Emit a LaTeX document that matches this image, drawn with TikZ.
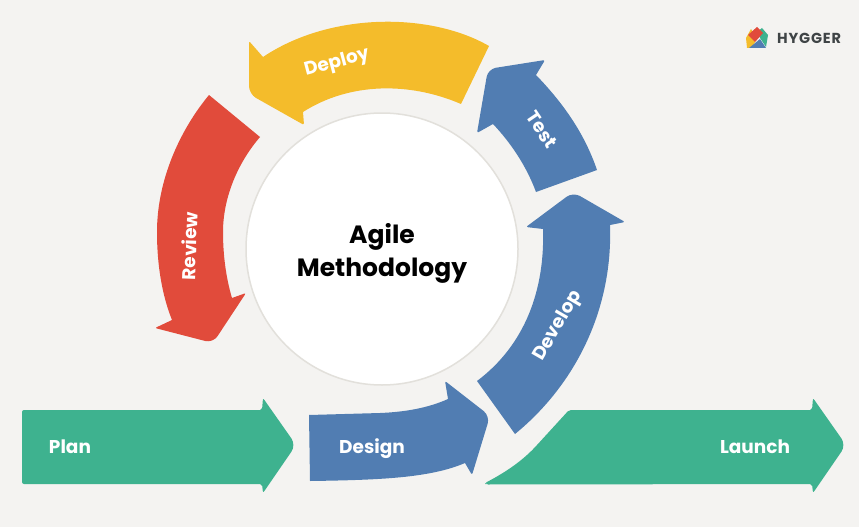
\documentclass[tikz,border=0pt]{standalone}
\usepackage{fontspec}
\setmainfont{Poppins}
\definecolor{paper}{HTML}{F4F3F1}
\definecolor{ringline}{HTML}{E2E0DB}
\definecolor{greenarrow}{HTML}{3EB28F}
\definecolor{bluearrow}{HTML}{517DB2}
\definecolor{yellowarrow}{HTML}{F4BC2B}
\definecolor{redarrow}{HTML}{E14B3B}
\definecolor{logotext}{HTML}{3F4446}
\tikzset{
  arrowtext/.style={text=white,text height=13pt,text depth=4pt,font=\bfseries\fontsize{18.5}{20}\selectfont},
  titletext/.style={text=black,align=center,font=\bfseries\fontsize{25}{33}\selectfont}
}
\begin{document}
\begin{tikzpicture}[x=1pt,y=-1pt]
\fill[paper] (0,0) rectangle (859,527);
\useasboundingbox (0,0) rectangle (859,527);
% plan and launch
\fill[greenarrow,rounded corners=2pt] (22,410) -- (262,410) -- (263,398) [rounded corners=8pt] -- (296,445) [rounded corners=2pt] -- (263,493) -- (262,484) -- (22,484) -- cycle;
\fill[greenarrow,rounded corners=2pt] (485,483) .. controls (510,470) and (525,458) .. (537,445) -- (569,410) -- (812,410) -- (813,398) [rounded corners=8pt] -- (846,445) [rounded corners=2pt] -- (813,493) -- (812,484) -- (486,484.5) -- cycle;
% ring
\fill[bluearrow] (309,415) -- (380,413) .. controls (405,412) and (428,408) .. (448,399) [rounded corners=2pt] -- (445,381) [rounded corners=8pt] -- (490,416) [rounded corners=2pt] -- (472,475) [rounded corners=0pt] -- (465,463) .. controls (430,478) and (380,480) .. (310,481) -- cycle;
\fill[bluearrow] (477,381) .. controls (525,345) and (545,290) .. (543,229) [rounded corners=2pt] -- (526,227) [rounded corners=8pt] -- (573,192) [rounded corners=2pt] -- (625,222) [rounded corners=0pt] -- (610,225) .. controls (613,310) and (575,385) .. (515,434) -- cycle;
\fill[bluearrow] (536,192) .. controls (526,165) and (510,142) .. (493,124) [rounded corners=2pt] -- (477,133) [rounded corners=8pt] -- (488,69) [rounded corners=2pt] -- (545,60) [rounded corners=0pt] -- (536,75) .. controls (565,105) and (585,135) .. (597,170) -- cycle;
\fill[yellowarrow] (489,46) -- (461,104) .. controls (410,82) and (350,82) .. (303,112) [rounded corners=2pt] -- (304,125) [rounded corners=8pt] -- (249,94) [rounded corners=2pt] -- (249,41) [rounded corners=0pt] -- (263,57) .. controls (330,12) and (430,12) .. (489,46) -- cycle;
\fill[redarrow] (209,95) -- (260,137) .. controls (236,165) and (223,200) .. (223,232) .. controls (223,255) and (226,278) .. (232,298) [rounded corners=2pt] -- (246,293) [rounded corners=8pt] -- (213,343) [rounded corners=2pt] -- (155,328) [rounded corners=0pt] -- (172,320) .. controls (162,295) and (157,265) .. (157,232) .. controls (157,180) and (180,130) .. (209,95) -- cycle;
% centre
\fill[white,draw=ringline,line width=1.5pt] (382,249) circle (136);
\node[titletext] (agile) at (382,253) {Agile\\Methodology};
% labels
\node[arrowtext] (plan) at (70,449) {Plan};
\node[arrowtext] (design) at (372,449) {Design};
\node[arrowtext] (launch) at (755,449) {Launch};
\node[arrowtext,rotate=60] (develop) at (558,326) {Develop};
\node[arrowtext,rotate=-56] (test) at (540,131) {Test};
\node[arrowtext,rotate=15] (deploy) at (337,63) {Deploy};
\node[arrowtext,rotate=88] (review) at (192,246) {Review};
% logo
\fill[yellowarrow] (746,38) -- (751,29) -- (757,38) -- (752,48) -- (747,48) -- cycle;
\fill[greenarrow] (757,32) -- (762,28) -- (768,35) -- (766,47) -- (760,38) -- cycle;
\fill[redarrow] (748,35) -- (757,27) -- (763,33) -- (755,42) -- cycle;
\fill[bluearrow] (749,48) -- (760,39) -- (766,48) -- cycle;
\node[text=logotext,font=\bfseries\fontsize{14.5}{15}\selectfont\addfontfeature{LetterSpace=6},anchor=west] (hygger) at (773.5,38) {HYGGER};
\end{tikzpicture}
\end{document}
